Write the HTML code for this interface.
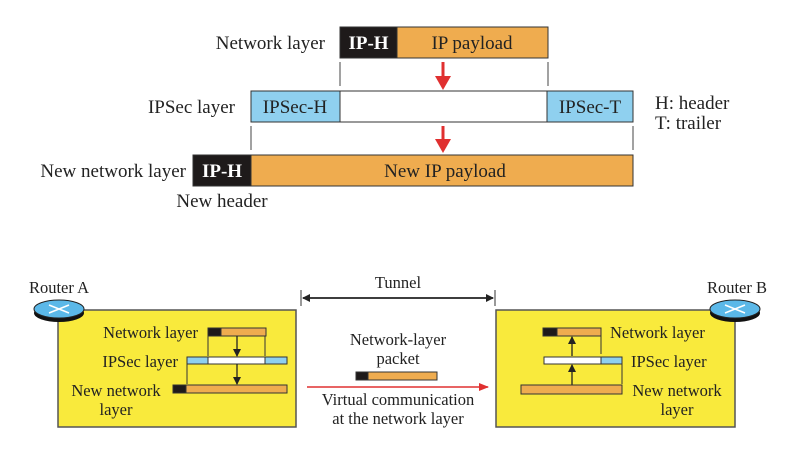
<!DOCTYPE html>
<html><head><meta charset="utf-8"><style>
html,body{margin:0;padding:0;background:#fff;}
svg{display:block;font-family:"Liberation Serif",serif;}
</style></head><body>
<svg width="799" height="456" viewBox="0 0 799 456" xmlns="http://www.w3.org/2000/svg">
<defs>
<marker id="ab" markerWidth="8" markerHeight="8" refX="7" refY="4" orient="auto" markerUnits="userSpaceOnUse"><path d="M0,0 L8,4 L0,8 Z" fill="#222"/></marker>
<marker id="ar" markerWidth="10" markerHeight="8" refX="9" refY="4" orient="auto" markerUnits="userSpaceOnUse"><path d="M0,0 L10,4 L0,8 Z" fill="#e03030"/></marker>
</defs>
<!-- top -->
<g font-size="19" fill="#222">
<text x="325" y="49" text-anchor="end">Network layer</text>
<rect x="340" y="27" width="57" height="31" fill="#1e1a1a" stroke="#333"/>
<rect x="397" y="27" width="151" height="31" fill="#efac4f" stroke="#333"/>
<text x="368.5" y="49" text-anchor="middle" fill="#fff" font-weight="bold">IP-H</text>
<text x="472" y="49" text-anchor="middle">IP payload</text>
<line x1="340" y1="62" x2="340" y2="86" stroke="#444"/>
<line x1="548" y1="62" x2="548" y2="86" stroke="#444"/>
<line x1="443" y1="62" x2="443" y2="76" stroke="#e03030" stroke-width="3"/>
<path d="M435,76 L451,76 L443,90 Z" fill="#e03030"/>
<text x="235" y="113" text-anchor="end">IPSec layer</text>
<rect x="251" y="91" width="89" height="31" fill="#8fd0ef" stroke="#333"/>
<rect x="340" y="91" width="207" height="31" fill="#fff" stroke="#333"/>
<rect x="547" y="91" width="86" height="31" fill="#8fd0ef" stroke="#333"/>
<text x="295" y="113" text-anchor="middle">IPSec-H</text>
<text x="590" y="113" text-anchor="middle">IPSec-T</text>
<text x="655" y="109">H: header</text>
<text x="655" y="129">T: trailer</text>
<line x1="251" y1="126" x2="251" y2="150" stroke="#444"/>
<line x1="633" y1="126" x2="633" y2="150" stroke="#444"/>
<line x1="443" y1="126" x2="443" y2="140" stroke="#e03030" stroke-width="3"/>
<path d="M435,139 L451,139 L443,153 Z" fill="#e03030"/>
<text x="186" y="177" text-anchor="end">New network layer</text>
<rect x="193" y="155" width="58" height="31" fill="#1e1a1a" stroke="#333"/>
<rect x="251" y="155" width="382" height="31" fill="#efac4f" stroke="#333"/>
<text x="222" y="177" text-anchor="middle" fill="#fff" font-weight="bold">IP-H</text>
<text x="445" y="177" text-anchor="middle">New IP payload</text>
<text x="222" y="207" text-anchor="middle">New header</text>
</g>
<!-- bottom -->
<g font-size="16.5" fill="#222">
<text x="59" y="293" text-anchor="middle">Router A</text>
<text x="737" y="293" text-anchor="middle">Router B</text>
<text x="398" y="288" text-anchor="middle">Tunnel</text>
<line x1="301" y1="290" x2="301" y2="306" stroke="#333"/>
<line x1="495" y1="290" x2="495" y2="306" stroke="#333"/>
<line x1="303" y1="298" x2="493" y2="298" stroke="#222" stroke-width="1.5" marker-end="url(#ab)"/>
<line x1="493" y1="298" x2="303" y2="298" stroke="#222" stroke-width="1.5" marker-end="url(#ab)"/>
<rect x="58" y="310" width="238" height="117" fill="#f9ea3c" stroke="#555" stroke-width="1.5"/>
<rect x="496" y="310" width="239" height="117" fill="#f9ea3c" stroke="#555" stroke-width="1.5"/>
<ellipse cx="59" cy="313" rx="25" ry="9" fill="#111"/>
<ellipse cx="59" cy="309" rx="25" ry="9" fill="#5bb8e8" stroke="#222"/>
<path d="M49,305 L69,313 M49,313 L69,305" stroke="#fff" stroke-width="1.5"/>
<ellipse cx="735" cy="313" rx="25" ry="9" fill="#111"/>
<ellipse cx="735" cy="309" rx="25" ry="9" fill="#5bb8e8" stroke="#222"/>
<path d="M725,305 L745,313 M725,313 L745,305" stroke="#fff" stroke-width="1.5"/>
<!-- left inner -->
<text x="198" y="338" text-anchor="end">Network layer</text>
<rect x="208" y="328" width="13" height="8" fill="#1e1a1a" stroke="#333"/>
<rect x="221" y="328" width="45" height="8" fill="#efac4f" stroke="#333"/>
<line x1="208" y1="336" x2="208" y2="356" stroke="#333"/>
<line x1="265" y1="336" x2="265" y2="356" stroke="#333"/>
<line x1="237" y1="336" x2="237" y2="356" stroke="#222" stroke-width="1.3" marker-end="url(#ab)"/>
<text x="178" y="367" text-anchor="end">IPSec layer</text>
<rect x="187" y="357" width="21" height="7" fill="#8fd0ef" stroke="#333"/>
<rect x="208" y="357" width="57" height="7" fill="#fff" stroke="#333"/>
<rect x="265" y="357" width="22" height="7" fill="#8fd0ef" stroke="#333"/>
<line x1="187" y1="364" x2="187" y2="384" stroke="#333"/>
<line x1="237" y1="364" x2="237" y2="384" stroke="#222" stroke-width="1.3" marker-end="url(#ab)"/>
<text x="116" y="396" text-anchor="middle">New network</text>
<text x="116" y="415" text-anchor="middle">layer</text>
<rect x="173" y="385" width="13" height="8" fill="#1e1a1a" stroke="#333"/>
<rect x="186" y="385" width="101" height="8" fill="#efac4f" stroke="#333"/>
<!-- middle -->
<text x="398" y="345" text-anchor="middle">Network-layer</text>
<text x="398" y="364" text-anchor="middle">packet</text>
<rect x="356" y="372" width="12" height="8" fill="#1e1a1a" stroke="#333"/>
<rect x="368" y="372" width="69" height="8" fill="#efac4f" stroke="#333"/>
<line x1="307" y1="387" x2="488" y2="387" stroke="#e03030" stroke-width="1.5" marker-end="url(#ar)"/>
<text x="398" y="405" text-anchor="middle">Virtual communication</text>
<text x="398" y="424" text-anchor="middle">at the network layer</text>
<!-- right inner -->
<rect x="543" y="328" width="14" height="8" fill="#1e1a1a" stroke="#333"/>
<rect x="557" y="328" width="44" height="8" fill="#efac4f" stroke="#333"/>
<text x="610" y="338">Network layer</text>
<line x1="601" y1="336" x2="601" y2="354" stroke="#333"/>
<line x1="572" y1="356" x2="572" y2="337" stroke="#222" stroke-width="1.3" marker-end="url(#ab)"/>
<rect x="544" y="357" width="57" height="7" fill="#fff" stroke="#333"/>
<rect x="601" y="357" width="21" height="7" fill="#8fd0ef" stroke="#333"/>
<text x="631" y="367">IPSec layer</text>
<line x1="622" y1="364" x2="622" y2="384" stroke="#333"/>
<line x1="572" y1="385" x2="572" y2="365" stroke="#222" stroke-width="1.3" marker-end="url(#ab)"/>
<rect x="521" y="385" width="101" height="9" fill="#efac4f" stroke="#333"/>
<text x="677" y="396" text-anchor="middle">New network</text>
<text x="677" y="415" text-anchor="middle">layer</text>
</g>
</svg>
</body></html>
